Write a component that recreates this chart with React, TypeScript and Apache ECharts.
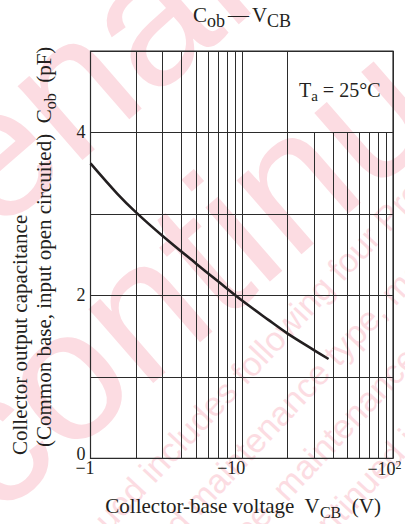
import React, { useEffect, useRef } from "react";
import * as echarts from "echarts";

// ---- data ----
const voltages = [1, 1.5, 2, 3, 5, 7, 10, 15, 20, 30, 37.5];
const capacitance = [3.62, 3.25, 3.02, 2.73, 2.39, 2.17, 1.94, 1.7, 1.535, 1.33, 1.22];
const xTickLabels: Record<number, string> = {
  1: "{t1|−1}",
  10: "{t10|−10}",
  100: "{t100|−10}{sup|2}",
};
const yTickLabels = [0, 2, 4];
const fullGridVoltages = [2, 3, 4, 5, 6, 7, 8, 9, 20];
const shortGridVoltages = [30, 40, 50, 60, 70, 80, 90];
const shortGridTop = 4;
const yMin = 0;
const yMax = 5;

const SERIF = '"Liberation Serif", "Times New Roman", serif';
const SANS = '"Liberation Sans", Arial, sans-serif';
const INK = "#231f20";
const GRID = "#2b2b2b";
const WM = "#fcdce2";

function wmText(text: string, x: number, y: number, size: number, angleDeg: number) {
  return {
    type: "text",
    x,
    y,
    z: -10,
    silent: true,
    rotation: (angleDeg * Math.PI) / 180,
    style: {
      text,
      fill: WM,
      font: `${size}px ${SANS}`,
      align: "left",
      textAlign: "left",
      verticalAlign: "middle",
      textVerticalAlign: "middle",
    },
  };
}

function label(text: string, x: number, y: number, size: number, subSize: number, subPad: number, align: string, rotation = 0) {
  return {
    type: "text",
    x,
    y,
    z: 10,
    silent: true,
    rotation,
    style: {
      text,
      fill: INK,
      font: `${size}px ${SERIF}`,
      align,
      textAlign: align,
      verticalAlign: "middle",
      textVerticalAlign: "middle",
      rich: {
        m: { fontSize: size, fontFamily: SERIF, fill: INK },
        s: { fontSize: subSize, fontFamily: SERIF, fill: INK, padding: [subPad, 0, 0, 0] },
        d: { fontSize: size, fontFamily: SERIF, fill: INK, padding: [0, 3, 0, 3] },
      },
    },
  };
}

export default function App() {
  const ref = useRef<HTMLDivElement>(null);
  useEffect(() => {
    if (!ref.current) return;
    const chart = echarts.init(ref.current, undefined, { renderer: "svg" });
    const gridLineData: any[] = [
      ...fullGridVoltages.map((v) => [{ coord: [v, yMin] }, { coord: [v, yMax] }]),
      ...shortGridVoltages.map((v) => [{ coord: [v, yMin] }, { coord: [v, shortGridTop] }]),
    ];
    const option: any = {
      animation: false,
      backgroundColor: "#ffffff",
      grid: {
        left: 90.5,
        right: 12,
        top: 51,
        bottom: 65.6,
        show: true,
        borderColor: GRID,
        borderWidth: 1.2,
        backgroundColor: "transparent",
      },
      xAxis: {
        type: "log",
        logBase: 10,
        min: 1,
        max: 100,
        axisLine: { show: false },
        axisTick: { show: false },
        splitLine: { show: true, lineStyle: { color: GRID, width: 1 } },
        axisLabel: {
          show: true,
          margin: 1,
          showMinLabel: true,
          showMaxLabel: true,
          formatter: (v: number) => xTickLabels[Math.round(v)] || "",
          rich: {
            t1: { fontSize: 18, fontFamily: SERIF, color: INK, padding: [0, 11, 0, 0] },
            t10: { fontSize: 18, fontFamily: SERIF, color: INK, padding: [0, 21, 0, 0] },
            t100: { fontSize: 18, fontFamily: SERIF, color: INK },
            sup: { fontSize: 12, fontFamily: SERIF, color: INK, padding: [0, 17, 8, 0] },
          },
        },
      },
      yAxis: {
        type: "value",
        min: yMin,
        max: yMax,
        interval: 1,
        axisLine: { show: false },
        axisTick: { show: false },
        splitLine: { show: true, lineStyle: { color: GRID, width: 1 } },
        axisLabel: {
          margin: 5,
          fontSize: 18,
          fontFamily: SERIF,
          color: INK,
          formatter: (v: number) =>
            yTickLabels.includes(v) ? (v === 0 ? "{z|0}" : String(v)) : "",
          rich: {
            z: { fontSize: 18, lineHeight: 12, fontFamily: SERIF, color: INK, padding: [0, 0, 8, 0] },
          },
        },
      },
      graphic: [
        // watermark
        wmText("Discontinued", -250, 648, 186, 41),
        wmText("Maintenance/", -391, 486, 186, 41),
        wmText("Discontinued includes following four Product lifecycle stage.", 5, 627, 34, 47),
        wmText("type, planned maintenance type, maintenance type, planned", 45, 665, 34, 47),
        wmText("discontinued type, maintenance type, planned maintenance", 85, 702, 34, 47),
        wmText("Maintenance/Discontinued includes following four", 125, 740, 34, 47),
        // texts
        label("{m|C}{s|ob}{d|—}{m|V}{s|CB}", 242, 15, 21, 18, 12, "center"),
        label("{m|T}{s|a}{m| = 25°C}", 299, 90, 20, 15, 12, "left"),
        label("{m|Collector-base voltage  V}{s|CB}{m|  (V)}", 243, 506, 21, 16, 13, "center"),
        label("{m|Collector output capacitance}", 20, 455, 21, 16, 12, "left", Math.PI / 2),
        label("{m|(Common base, input open circuited)  C}{s|ob}{m|  (pF)}", 44, 447, 21, 16, 12, "left", Math.PI / 2),
      ],
      series: [
        {
          type: "line",
          data: [],
          z: 1,
          silent: true,
          markLine: {
            silent: true,
            symbol: ["none", "none"],
            label: { show: false },
            lineStyle: { color: GRID, width: 1, type: "solid" },
            emphasis: { disabled: true },
            data: gridLineData,
          },
        },
        {
          type: "line",
          z: 5,
          data: voltages.map((v, i) => [v, capacitance[i]]),
          smooth: 0.35,
          showSymbol: false,
          symbol: "none",
          lineStyle: { color: INK, width: 2.6 },
        },
      ],
    };
    chart.setOption(option);
    return () => chart.dispose();
  }, []);
  return (
    <div
      ref={ref}
      style={{ position: "fixed", left: 0, top: 0, width: 405, height: 524, background: "#fff" }}
    />
  );
}
